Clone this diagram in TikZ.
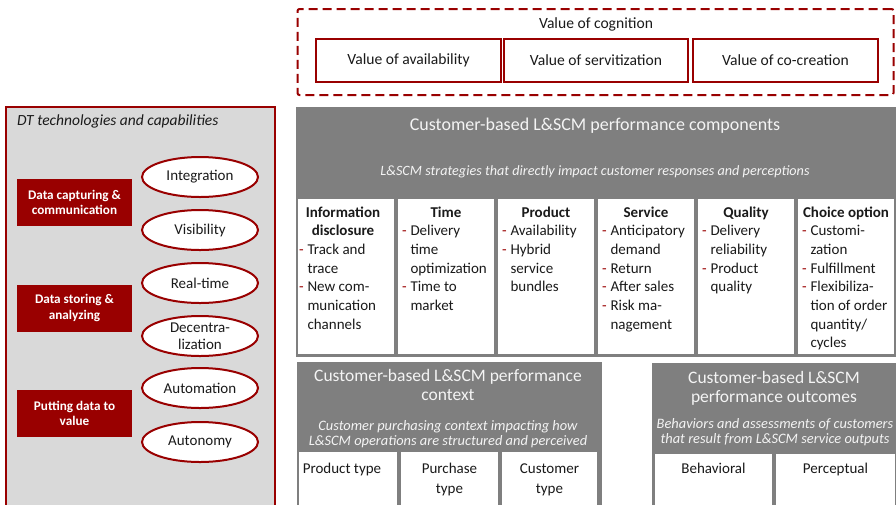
\documentclass[tikz,border=0pt]{standalone}
\usepackage{fontspec}
\setmainfont{Carlito}
\usetikzlibrary{shapes.geometric}
\definecolor{dred}{HTML}{990000}
\definecolor{hgray}{HTML}{7F7F7F}
\definecolor{lgray}{HTML}{D9D9D9}
\definecolor{wtxt}{HTML}{F4F4F4}
\definecolor{btxt}{HTML}{1A1A1A}
\newcommand{\fsz}[2]{\fontsize{#1}{#2}\selectfont}
\newcommand{\fst}[1]{\rule{0pt}{#1}}
\newcommand{\dsh}{\makebox[8.5pt][l]{\textcolor{dred}{-}}}
\newcommand{\ind}{\hspace*{8.5pt}}
\newcommand{\hd}[1]{\rule{0pt}{12pt}\makebox[88pt][c]{\bfseries #1}}
\begin{document}
\begin{tikzpicture}[x=1pt,y=-1pt,
  every node/.style={inner sep=0pt, outer sep=0pt, text=btxt},
  redbox/.style={fill=dred, minimum width=115pt, minimum height=47pt, text=white, font=\bfseries\fsz{13.2}{15.3}, align=center},
  ell/.style={ellipse, draw=dred, line width=2pt, fill=white, minimum width=116pt, minimum height=40pt},
  elltxt/.style={font=\fsz{15}{17}, align=center, text=btxt},
  valbox/.style={draw=dred, line width=2pt, fill=white, minimum height=43pt, font=\fsz{15.6}{18}},
  hdrbox/.style={fill=hgray, anchor=north west},
  whbox/.style={fill=white, anchor=north west},
  coltxt/.style={font=\fsz{15}{18.7}, align=left, anchor=north west},
  ttl/.style={text=wtxt, font=\fsz{17.5}{19.5}, align=center, anchor=north},
  subt/.style={text=wtxt, font=\itshape\fsz{14.4}{15.8}, align=center, anchor=north},
  celltxt/.style={font=\fsz{15}{20}, align=center, anchor=north},
]
\useasboundingbox (0,0) rectangle (896,504);

% ---------- Left panel ----------
\node[draw=dred, line width=1.5pt, fill=lgray, minimum width=269pt, minimum height=410pt, anchor=north west] (dt) at (6,107) {};
\node[anchor=base west, font=\itshape\fsz{15.5}{17}] (dtt) at (17,125) {DT technologies and capabilities};

\node[redbox] (r1) at (74.5,202.5) {Data capturing \&\\communication};
\node[redbox] (r2) at (74.5,308) {Data storing \&\\analyzing};
\node[redbox] (r3) at (74.5,413.5) {Putting data to\\value};

\node[ell, label={[elltxt]center:Integration}] (e1) at (200,177) {};
\node[ell, label={[elltxt]center:Visibility}] (e2) at (200,230) {};
\node[ell, label={[elltxt]center:Real-time}] (e3) at (200,283) {};
\node[ell, label={[elltxt]center:Decentra-\\lization}] (e4) at (200,336) {};
\node[ell, label={[elltxt]center:Automation}] (e5) at (200,388) {};
\node[ell, label={[elltxt]center:Autonomy}] (e6) at (200,442) {};

% ---------- Value of cognition ----------
\node[draw=dred, line width=2pt, dash pattern=on 9pt off 5pt, rounded corners=2pt, minimum width=596pt, minimum height=86pt] (cog) at (595.5,52) {};
\node[anchor=base, font=\fsz{15.6}{18}] (cogt) at (596,28.5) {Value of cognition};
\node[valbox, minimum width=185pt] (v1) at (408.5,60.5) {Value of availability};
\node[valbox, minimum width=184pt] (v2) at (596,60.5) {Value of servitization};
\node[valbox, minimum width=185pt] (v3) at (785.5,60.5) {Value of co-creation};

% ---------- Performance components ----------
\node[hdrbox, minimum width=600pt, minimum height=250pt] (perf) at (296,107) {};
\node[anchor=base, text=wtxt, font=\fsz{18}{20}] (perft) at (595,130.7) {Customer-based L\&SCM performance components};
\node[anchor=base, text=wtxt, font=\itshape\fsz{14.2}{16}] (perfs) at (595,175) {L\&SCM strategies that directly impact customer responses and perceptions};

\node[whbox, minimum width=96pt, minimum height=155pt] (k1) at (298,199) {};
\node[whbox, minimum width=96pt, minimum height=155pt] (k2) at (398,199) {};
\node[whbox, minimum width=96pt, minimum height=155pt] (k3) at (498,199) {};
\node[whbox, minimum width=96pt, minimum height=155pt] (k4) at (598,199) {};
\node[whbox, minimum width=96pt, minimum height=155pt] (k5) at (698,199) {};
\node[whbox, minimum width=96pt, minimum height=155pt] (k6) at (798,199) {};

\node[coltxt] (t1) at ([xshift=1pt,yshift=-6pt]k1.north west)
  {\hd{Information}\\\hd{disclosure}\\\dsh Track and\\\ind trace\\\dsh New com-\\\ind munication\\\ind channels};
\node[coltxt] (t2) at ([xshift=4pt,yshift=-6pt]k2.north west)
  {\hd{Time}\\\dsh Delivery\\\ind time\\\ind optimization\\\dsh Time to\\\ind market};
\node[coltxt] (t3) at ([xshift=4pt,yshift=-6pt]k3.north west)
  {\hd{Product}\\\dsh Availability\\\dsh Hybrid\\\ind service\\\ind bundles};
\node[coltxt] (t4) at ([xshift=4pt,yshift=-6pt]k4.north west)
  {\hd{Service}\\\dsh Anticipatory\\\ind demand\\\dsh Return\\\dsh After sales\\\dsh Risk ma-\\\ind nagement};
\node[coltxt] (t5) at ([xshift=4pt,yshift=-6pt]k5.north west)
  {\hd{Quality}\\\dsh Delivery\\\ind reliability\\\dsh Product\\\ind quality};
\node[coltxt] (t6) at ([xshift=4pt,yshift=-6pt]k6.north west)
  {\hd{Choice option}\\\dsh Customi-\\\ind zation\\\dsh Fulfillment\\\dsh Flexibiliza-\\\ind tion of order\\\ind quantity/\\\ind cycles};

% ---------- Performance context ----------
\node[hdrbox, minimum width=305pt, minimum height=148pt] (ctx) at (297,362) {};
\node[ttl] (ctxt) at (448,368) {\fst{13pt}Customer-based L\&SCM performance\\context};
\node[subt] (ctxs) at (448,419) {\fst{11pt}Customer purchasing context impacting how\\L\&SCM operations are structured and perceived};
\node[whbox, minimum width=98pt, minimum height=60pt] (x1) at (299,452) {};
\node[whbox, minimum width=97pt, minimum height=60pt] (x2) at (401,452) {};
\node[whbox, minimum width=95pt, minimum height=60pt] (x3) at (502,452) {};
\node[celltxt] (x1t) at ([xshift=-6pt,yshift=-8.3pt]x1.north) {\fst{13pt}Product type};
\node[celltxt] (x2t) at ([yshift=-8.3pt]x2.north) {\fst{13pt}Purchase\\type};
\node[celltxt] (x3t) at ([yshift=-8.3pt]x3.north) {\fst{13pt}Customer\\type};

% ---------- Performance outcomes ----------
\node[hdrbox, minimum width=244pt, minimum height=147pt] (out) at (652,363) {};
\node[ttl] (outt) at (774,370) {\fst{13pt}Customer-based L\&SCM\\performance outcomes};
\node[subt] (outs) at (775,417) {\fst{11pt}Behaviors and assessments of customers\\that result from L\&SCM service outputs};
\node[whbox, minimum width=117pt, minimum height=60pt] (y1) at (655,454) {};
\node[whbox, minimum width=119pt, minimum height=60pt] (y2) at (776,454) {};
\node[celltxt] (y1t) at ([yshift=-6pt]y1.north) {\fst{13pt}Behavioral};
\node[celltxt] (y2t) at ([yshift=-6pt]y2.north) {\fst{13pt}Perceptual};
\end{tikzpicture}
\end{document}
